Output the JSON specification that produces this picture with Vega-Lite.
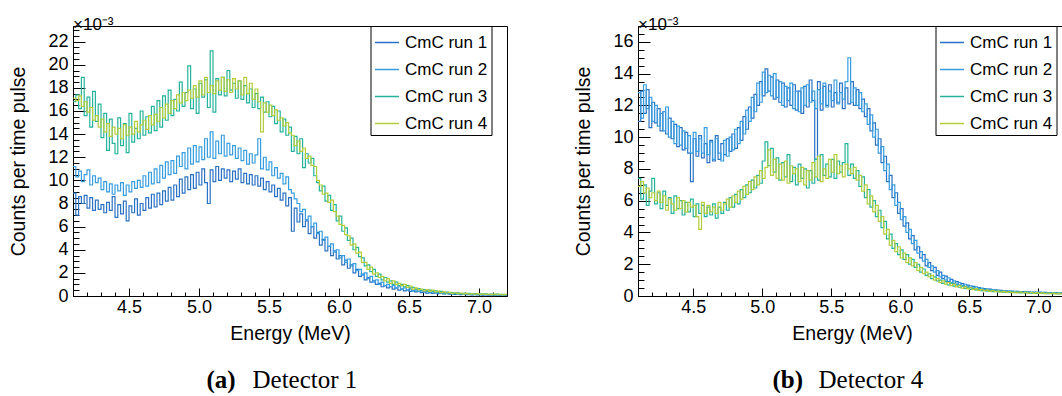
{
"$schema": "https://vega.github.io/schema/vega-lite/v6.json",
"background": "white",
"padding": {"left": 7, "top": 15, "right": 0, "bottom": 0},
"spacing": 62,
"config": {
  "font": "Liberation Sans",
  "view": {"stroke": "black", "strokeWidth": 1},
  "axis": {"grid": false, "domainColor": "black", "domainWidth": 1, "tickColor": "black", "tickWidth": 1, "labelColor": "black", "titleColor": "black", "labelFont": "Liberation Sans", "titleFont": "Liberation Sans", "labelFlush": false, "labelOverlap": false},
  "title": {"color": "black"}
},
"resolve": {"scale": {"x": "independent", "y": "independent", "color": "independent"}, "legend": {"color": "independent"}},
"hconcat": [
{
  "width": 434, "height": 270,
  "title": {"text": "×10⁻³", "orient": "top", "anchor": "start", "frame": "group", "fontSize": 17, "fontWeight": "normal", "font": "Liberation Sans", "baseline": "alphabetic", "offset": -21},
  "data": {"values": [
{"E":4.1,"r1":8.9,"r2":11.2,"r3":16.8,"r4":17.1},
{"E":4.12,"r1":7.0,"r2":10.3,"r3":17.4,"r4":16.9},
{"E":4.14,"r1":8.6,"r2":10.8,"r3":16.2,"r4":17.3},
{"E":4.16,"r1":8.0,"r2":9.9,"r3":18.9,"r4":16.4},
{"E":4.18,"r1":8.7,"r2":10.5,"r3":15.6,"r4":16.8},
{"E":4.2,"r1":7.6,"r2":10.9,"r3":17.2,"r4":15.9},
{"E":4.22,"r1":8.5,"r2":9.6,"r3":14.6,"r4":16.3},
{"E":4.24,"r1":7.4,"r2":10.4,"r3":17.7,"r4":15.2},
{"E":4.26,"r1":8.3,"r2":9.8,"r3":15.1,"r4":15.6},
{"E":4.28,"r1":7.5,"r2":10.2,"r3":16.6,"r4":14.6},
{"E":4.3,"r1":7.9,"r2":9.2,"r3":13.7,"r4":15.3},
{"E":4.32,"r1":7.2,"r2":9.9,"r3":15.8,"r4":14.2},
{"E":4.34,"r1":8.1,"r2":9.0,"r3":12.6,"r4":14.9},
{"E":4.36,"r1":7.4,"r2":9.7,"r3":15.3,"r4":13.8},
{"E":4.38,"r1":8.6,"r2":8.8,"r3":13.2,"r4":14.6},
{"E":4.4,"r1":6.8,"r2":9.6,"r3":12.3,"r4":14.0},
{"E":4.42,"r1":7.9,"r2":9.1,"r3":15.4,"r4":14.5},
{"E":4.44,"r1":7.1,"r2":9.8,"r3":13.0,"r4":13.6},
{"E":4.46,"r1":8.2,"r2":8.7,"r3":14.9,"r4":14.8},
{"E":4.48,"r1":6.5,"r2":9.6,"r3":12.4,"r4":13.9},
{"E":4.5,"r1":7.8,"r2":9.0,"r3":15.8,"r4":14.6},
{"E":4.52,"r1":7.2,"r2":9.9,"r3":13.3,"r4":14.0},
{"E":4.54,"r1":8.4,"r2":9.3,"r3":14.5,"r4":15.1},
{"E":4.56,"r1":7.0,"r2":10.0,"r3":13.6,"r4":14.2},
{"E":4.58,"r1":8.0,"r2":9.4,"r3":16.0,"r4":14.8},
{"E":4.6,"r1":7.4,"r2":10.4,"r3":13.9,"r4":15.2},
{"E":4.62,"r1":8.5,"r2":9.5,"r3":15.5,"r4":14.4},
{"E":4.64,"r1":7.6,"r2":10.7,"r3":14.1,"r4":15.6},
{"E":4.66,"r1":8.8,"r2":9.7,"r3":16.4,"r4":14.8},
{"E":4.68,"r1":7.7,"r2":11.0,"r3":14.3,"r4":15.7},
{"E":4.7,"r1":8.9,"r2":9.8,"r3":16.9,"r4":15.1},
{"E":4.72,"r1":7.9,"r2":11.3,"r3":14.6,"r4":16.3},
{"E":4.74,"r1":9.1,"r2":10.2,"r3":17.3,"r4":15.4},
{"E":4.76,"r1":8.2,"r2":11.6,"r3":15.2,"r4":16.6},
{"E":4.78,"r1":9.4,"r2":10.5,"r3":17.8,"r4":15.8},
{"E":4.8,"r1":8.3,"r2":11.7,"r3":15.6,"r4":16.9},
{"E":4.82,"r1":9.6,"r2":10.6,"r3":17.0,"r4":16.2},
{"E":4.84,"r1":8.6,"r2":12.1,"r3":16.0,"r4":17.4},
{"E":4.86,"r1":10.1,"r2":11.2,"r3":18.5,"r4":16.7},
{"E":4.88,"r1":8.9,"r2":12.4,"r3":16.4,"r4":17.6},
{"E":4.9,"r1":10.3,"r2":11.0,"r3":17.6,"r4":16.9},
{"E":4.92,"r1":9.2,"r2":12.8,"r3":19.9,"r4":17.8},
{"E":4.94,"r1":10.5,"r2":11.4,"r3":16.2,"r4":17.1},
{"E":4.96,"r1":9.3,"r2":13.0,"r3":17.9,"r4":18.2},
{"E":4.98,"r1":10.7,"r2":11.6,"r3":15.8,"r4":17.2},
{"E":5.0,"r1":9.6,"r2":12.9,"r3":18.4,"r4":18.6},
{"E":5.02,"r1":11.0,"r2":11.8,"r3":17.2,"r4":17.4},
{"E":5.04,"r1":9.8,"r2":13.6,"r3":18.7,"r4":18.9},
{"E":5.06,"r1":8.0,"r2":12.0,"r3":16.3,"r4":17.6},
{"E":5.08,"r1":10.9,"r2":14.2,"r3":21.2,"r4":18.2},
{"E":5.1,"r1":9.9,"r2":11.9,"r3":15.9,"r4":17.5},
{"E":5.12,"r1":11.2,"r2":13.4,"r3":18.8,"r4":18.6},
{"E":5.14,"r1":10.0,"r2":12.3,"r3":17.4,"r4":17.8},
{"E":5.16,"r1":11.0,"r2":13.9,"r3":18.9,"r4":18.9},
{"E":5.18,"r1":10.2,"r2":12.1,"r3":17.3,"r4":17.7},
{"E":5.2,"r1":10.9,"r2":13.2,"r3":19.5,"r4":18.7},
{"E":5.22,"r1":9.9,"r2":12.2,"r3":17.8,"r4":17.6},
{"E":5.24,"r1":10.8,"r2":13.0,"r3":18.4,"r4":18.8},
{"E":5.26,"r1":10.1,"r2":11.9,"r3":17.1,"r4":17.9},
{"E":5.28,"r1":11.0,"r2":12.8,"r3":18.6,"r4":18.6},
{"E":5.3,"r1":9.8,"r2":11.7,"r3":17.0,"r4":17.4},
{"E":5.32,"r1":10.6,"r2":12.6,"r3":18.2,"r4":18.9},
{"E":5.34,"r1":9.7,"r2":11.4,"r3":16.7,"r4":17.5},
{"E":5.36,"r1":10.5,"r2":12.3,"r3":17.9,"r4":18.4},
{"E":5.38,"r1":9.6,"r2":11.5,"r3":16.3,"r4":17.0},
{"E":5.4,"r1":10.4,"r2":12.2,"r3":17.5,"r4":17.9},
{"E":5.42,"r1":9.5,"r2":13.6,"r3":16.2,"r4":16.8},
{"E":5.44,"r1":10.2,"r2":11.0,"r3":17.2,"r4":14.2},
{"E":5.46,"r1":9.2,"r2":12.0,"r3":15.9,"r4":16.7},
{"E":5.48,"r1":9.9,"r2":10.9,"r3":16.8,"r4":15.9},
{"E":5.5,"r1":9.0,"r2":11.6,"r3":15.5,"r4":16.5},
{"E":5.52,"r1":9.6,"r2":10.4,"r3":16.4,"r4":15.6},
{"E":5.54,"r1":8.6,"r2":11.1,"r3":14.9,"r4":16.1},
{"E":5.56,"r1":9.3,"r2":10.2,"r3":16.0,"r4":15.2},
{"E":5.58,"r1":8.3,"r2":10.6,"r3":14.2,"r4":15.4},
{"E":5.6,"r1":8.9,"r2":9.7,"r3":15.3,"r4":14.7},
{"E":5.62,"r1":7.8,"r2":10.3,"r3":13.9,"r4":15.0},
{"E":5.64,"r1":8.5,"r2":9.2,"r3":14.6,"r4":14.1},
{"E":5.66,"r1":5.6,"r2":8.9,"r3":12.5,"r4":13.9},
{"E":5.68,"r1":7.6,"r2":8.4,"r3":13.8,"r4":13.0},
{"E":5.7,"r1":6.4,"r2":8.0,"r3":12.3,"r4":13.4},
{"E":5.72,"r1":7.1,"r2":7.3,"r3":13.6,"r4":12.5},
{"E":5.74,"r1":6.0,"r2":7.5,"r3":11.1,"r4":12.8},
{"E":5.76,"r1":6.5,"r2":6.6,"r3":12.3,"r4":11.9},
{"E":5.78,"r1":5.4,"r2":6.9,"r3":11.5,"r4":12.1},
{"E":5.8,"r1":6.0,"r2":6.0,"r3":11.9,"r4":11.3},
{"E":5.82,"r1":5.0,"r2":6.3,"r3":10.4,"r4":11.2},
{"E":5.84,"r1":5.5,"r2":5.4,"r3":9.8,"r4":10.0},
{"E":5.86,"r1":4.4,"r2":5.6,"r3":9.1,"r4":9.6},
{"E":5.88,"r1":4.9,"r2":4.8,"r3":9.5,"r4":8.8},
{"E":5.9,"r1":3.9,"r2":5.1,"r3":8.2,"r4":8.9},
{"E":5.92,"r1":4.3,"r2":4.3,"r3":8.7,"r4":8.1},
{"E":5.94,"r1":3.5,"r2":4.5,"r3":7.4,"r4":8.3},
{"E":5.96,"r1":3.9,"r2":3.8,"r3":7.9,"r4":7.3},
{"E":5.98,"r1":3.2,"r2":4.0,"r3":6.5,"r4":6.9},
{"E":6.0,"r1":3.5,"r2":3.3,"r3":6.9,"r4":6.2},
{"E":6.02,"r1":2.7,"r2":3.5,"r3":5.6,"r4":6.1},
{"E":6.04,"r1":3.1,"r2":2.9,"r3":5.9,"r4":5.3},
{"E":6.06,"r1":2.4,"r2":3.2,"r3":4.8,"r4":5.2},
{"E":6.08,"r1":2.7,"r2":2.6,"r3":5.0,"r4":4.4},
{"E":6.1,"r1":2.0,"r2":2.8,"r3":4.0,"r4":4.5},
{"E":6.12,"r1":2.3,"r2":2.2,"r3":4.2,"r4":3.7},
{"E":6.14,"r1":1.7,"r2":2.3,"r3":3.4,"r4":3.8},
{"E":6.16,"r1":1.9,"r2":1.8,"r3":3.3,"r4":2.9},
{"E":6.18,"r1":1.4,"r2":2.0,"r3":2.6,"r4":2.9},
{"E":6.2,"r1":1.6,"r2":1.5,"r3":2.7,"r4":2.3},
{"E":6.22,"r1":1.2,"r2":1.7,"r3":2.1,"r4":2.5},
{"E":6.24,"r1":1.3,"r2":1.2,"r3":2.3,"r4":1.9},
{"E":6.26,"r1":1.0,"r2":1.4,"r3":1.7,"r4":2.0},
{"E":6.28,"r1":1.1,"r2":1.0,"r3":1.9,"r4":1.6},
{"E":6.3,"r1":0.8,"r2":1.2,"r3":1.4,"r4":1.7},
{"E":6.32,"r1":0.9,"r2":0.9,"r3":1.6,"r4":1.3},
{"E":6.34,"r1":0.7,"r2":1.0,"r3":1.2,"r4":1.5},
{"E":6.36,"r1":0.8,"r2":0.8,"r3":1.3,"r4":1.1},
{"E":6.38,"r1":0.6,"r2":0.9,"r3":1.0,"r4":1.3},
{"E":6.4,"r1":0.7,"r2":0.7,"r3":1.2,"r4":1.0},
{"E":6.42,"r1":0.5,"r2":0.8,"r3":0.9,"r4":1.1},
{"E":6.44,"r1":0.6,"r2":0.6,"r3":1.0,"r4":0.9},
{"E":6.46,"r1":0.45,"r2":0.7,"r3":0.8,"r4":1.0},
{"E":6.48,"r1":0.5,"r2":0.5,"r3":0.9,"r4":0.75},
{"E":6.5,"r1":0.4,"r2":0.6,"r3":0.7,"r4":0.85},
{"E":6.52,"r1":0.45,"r2":0.45,"r3":0.75,"r4":0.6},
{"E":6.54,"r1":0.35,"r2":0.5,"r3":0.6,"r4":0.7},
{"E":6.56,"r1":0.4,"r2":0.4,"r3":0.65,"r4":0.55},
{"E":6.58,"r1":0.3,"r2":0.45,"r3":0.5,"r4":0.6},
{"E":6.6,"r1":0.35,"r2":0.35,"r3":0.55,"r4":0.45},
{"E":6.62,"r1":0.25,"r2":0.4,"r3":0.45,"r4":0.55},
{"E":6.64,"r1":0.3,"r2":0.3,"r3":0.5,"r4":0.4},
{"E":6.66,"r1":0.22,"r2":0.35,"r3":0.4,"r4":0.5},
{"E":6.68,"r1":0.28,"r2":0.25,"r3":0.45,"r4":0.35},
{"E":6.7,"r1":0.2,"r2":0.3,"r3":0.35,"r4":0.42},
{"E":6.72,"r1":0.25,"r2":0.22,"r3":0.4,"r4":0.3},
{"E":6.74,"r1":0.18,"r2":0.28,"r3":0.3,"r4":0.36},
{"E":6.76,"r1":0.22,"r2":0.2,"r3":0.34,"r4":0.26},
{"E":6.78,"r1":0.15,"r2":0.25,"r3":0.26,"r4":0.32},
{"E":6.8,"r1":0.2,"r2":0.18,"r3":0.3,"r4":0.22},
{"E":6.82,"r1":0.14,"r2":0.22,"r3":0.22,"r4":0.28},
{"E":6.84,"r1":0.18,"r2":0.15,"r3":0.27,"r4":0.2},
{"E":6.86,"r1":0.12,"r2":0.2,"r3":0.2,"r4":0.25},
{"E":6.88,"r1":0.16,"r2":0.14,"r3":0.24,"r4":0.18},
{"E":6.9,"r1":0.11,"r2":0.18,"r3":0.18,"r4":0.23},
{"E":6.92,"r1":0.15,"r2":0.12,"r3":0.22,"r4":0.16},
{"E":6.94,"r1":0.1,"r2":0.16,"r3":0.16,"r4":0.21},
{"E":6.96,"r1":0.13,"r2":0.11,"r3":0.2,"r4":0.15},
{"E":6.98,"r1":0.09,"r2":0.15,"r3":0.15,"r4":0.2},
{"E":7.0,"r1":0.12,"r2":0.1,"r3":0.19,"r4":0.14},
{"E":7.02,"r1":0.08,"r2":0.14,"r3":0.14,"r4":0.18},
{"E":7.04,"r1":0.11,"r2":0.09,"r3":0.18,"r4":0.13},
{"E":7.06,"r1":0.08,"r2":0.13,"r3":0.13,"r4":0.17},
{"E":7.08,"r1":0.1,"r2":0.08,"r3":0.17,"r4":0.12},
{"E":7.1,"r1":0.07,"r2":0.12,"r3":0.12,"r4":0.16},
{"E":7.12,"r1":0.1,"r2":0.08,"r3":0.16,"r4":0.11},
{"E":7.14,"r1":0.07,"r2":0.11,"r3":0.11,"r4":0.15},
{"E":7.16,"r1":0.09,"r2":0.07,"r3":0.15,"r4":0.1},
{"E":7.18,"r1":0.07,"r2":0.1,"r3":0.12,"r4":0.14},
{"E":7.2,"r1":0.07,"r2":0.1,"r3":0.12,"r4":0.14}
  ]},
  "transform": [{"fold": ["r1", "r2", "r3", "r4"], "as": ["run", "v"]}],
  "resolve": {"axis": {"x": "independent", "y": "independent"}},
  "layer": [
    {
      "transform": [{"filter": {"field": "run", "oneOf": ["r1", "r2"]}}],
      "mark": {"type": "line", "interpolate": "step-after", "strokeWidth": 1.2},
      "encoding": {
        "x": {"field": "E", "type": "quantitative", "scale": {"domain": [4.1, 7.2], "nice": false, "zero": false},
              "axis": {"orient": "bottom", "values": [4.5, 5, 5.5, 6, 6.5, 7], "format": ".1f", "tickSize": -8, "labelFontSize": 18, "labelPadding": 10, "title": "Energy (MeV)", "titleFontSize": 19.5, "titleFontWeight": "normal", "titleX": 217, "titleY": 43.5, "titleAlign": "center", "titleBaseline": "alphabetic"}},
        "y": {"field": "v", "type": "quantitative", "scale": {"domain": [0, 23.35], "nice": false, "zero": false},
              "axis": {"orient": "left", "values": [0, 2, 4, 6, 8, 10, 12, 14, 16, 18, 20, 22], "format": "d", "tickSize": -12, "labelFontSize": 18, "labelPadding": 17, "title": "Counts per time pulse", "titleFontSize": 19.5, "titleFontWeight": "normal", "titleAngle": -90, "titleX": -55, "titleY": 135, "titleAlign": "center", "titleBaseline": "middle"}},
        "color": {"field": "run", "type": "nominal",
                  "scale": {"domain": ["r1", "r2", "r3", "r4"], "range": ["#2a72c4", "#389ddf", "#25b39b", "#b3cd3c"]},
                  "legend": {"orient": "none", "legendX": 297.5, "legendY": 0, "title": null, "symbolType": "stroke", "symbolSize": 576, "symbolStrokeWidth": 1.5, "labelFontSize": 17, "labelFont": "Liberation Sans", "labelColor": "black", "labelOffset": 5, "padding": 3.5, "rowPadding": 6, "strokeColor": "black", "fillColor": "white", "labelExpr": "'CmC run ' + slice(datum.label, 1) + '\u00a0\u00a0\u00a0\u00a0'"}}
      }
    },
    {
      "transform": [{"filter": {"field": "run", "oneOf": ["r3", "r4"]}}],
      "mark": {"type": "line", "interpolate": "step-after", "strokeWidth": 1.2},
      "encoding": {
        "x": {"field": "E", "type": "quantitative", "scale": {"domain": [4.1, 7.2], "nice": false, "zero": false},
              "axis": {"orient": "bottom", "values": [4.1, 4.2, 4.3, 4.4, 4.5, 4.6, 4.7, 4.8, 4.9, 5.0, 5.1, 5.2, 5.3, 5.4, 5.5, 5.6, 5.7, 5.8, 5.9, 6.0, 6.1, 6.2, 6.3, 6.4, 6.5, 6.6, 6.7, 6.8, 6.9, 7.0, 7.1], "labels": false, "domain": false, "tickSize": -4, "title": "Detector 1", "titleFont": "Liberation Serif", "titleFontSize": 25, "titleFontWeight": "normal", "titleX": 179, "titleY": 91, "titleAlign": "left", "titleBaseline": "alphabetic"}},
        "y": {"field": "v", "type": "quantitative", "scale": {"domain": [0, 23.35], "nice": false, "zero": false},
              "axis": {"orient": "left", "values": [0.5, 1, 1.5, 2.5, 3, 3.5, 4.5, 5, 5.5, 6.5, 7, 7.5, 8.5, 9, 9.5, 10.5, 11, 11.5, 12.5, 13, 13.5, 14.5, 15, 15.5, 16.5, 17, 17.5, 18.5, 19, 19.5, 20.5, 21, 21.5, 22.5, 23], "labels": false, "domain": false, "tickSize": -6, "title": "(a)", "titleFont": "Liberation Serif", "titleFontSize": 25, "titleFontWeight": "bold", "titleAngle": 0, "titleX": 133, "titleY": 361, "titleAlign": "left", "titleBaseline": "alphabetic"}},
        "color": {"field": "run", "type": "nominal", "scale": {"domain": ["r1", "r2", "r3", "r4"], "range": ["#2a72c4", "#389ddf", "#25b39b", "#b3cd3c"]}}
      }
    }
  ]
},
{
  "width": 428, "height": 270,
  "title": {"text": "×10⁻³", "orient": "top", "anchor": "start", "frame": "group", "fontSize": 17, "fontWeight": "normal", "font": "Liberation Sans", "baseline": "alphabetic", "offset": -21},
  "data": {"values": [
{"E":4.1,"r1":11.0,"r2":12.8,"r3":7.4,"r4":6.9},
{"E":4.12,"r1":12.9,"r2":11.2,"r3":6.1,"r4":7.2},
{"E":4.14,"r1":11.5,"r2":13.3,"r3":7.0,"r4":6.5},
{"E":4.16,"r1":13.0,"r2":11.8,"r3":5.7,"r4":6.8},
{"E":4.18,"r1":10.6,"r2":12.5,"r3":6.6,"r4":6.2},
{"E":4.2,"r1":12.2,"r2":11.0,"r3":7.4,"r4":6.5},
{"E":4.22,"r1":10.9,"r2":12.0,"r3":5.8,"r4":6.0},
{"E":4.24,"r1":11.8,"r2":10.7,"r3":6.5,"r4":6.6},
{"E":4.26,"r1":10.4,"r2":11.5,"r3":5.5,"r4":5.9},
{"E":4.28,"r1":11.6,"r2":10.4,"r3":6.6,"r4":6.3},
{"E":4.3,"r1":10.2,"r2":11.9,"r3":5.7,"r4":5.4},
{"E":4.32,"r1":11.2,"r2":10.0,"r3":6.2,"r4":6.1},
{"E":4.34,"r1":9.9,"r2":11.0,"r3":5.2,"r4":5.8},
{"E":4.36,"r1":10.8,"r2":9.6,"r3":6.3,"r4":5.4},
{"E":4.38,"r1":9.4,"r2":10.7,"r3":5.5,"r4":6.2},
{"E":4.4,"r1":10.6,"r2":9.5,"r3":6.0,"r4":5.5},
{"E":4.42,"r1":9.2,"r2":10.4,"r3":5.1,"r4":6.0},
{"E":4.44,"r1":10.3,"r2":9.3,"r3":5.9,"r4":5.3},
{"E":4.46,"r1":9.0,"r2":10.1,"r3":5.3,"r4":5.9},
{"E":4.48,"r1":7.2,"r2":9.0,"r3":6.1,"r4":5.6},
{"E":4.5,"r1":9.9,"r2":10.3,"r3":5.0,"r4":5.7},
{"E":4.52,"r1":8.8,"r2":9.1,"r3":5.8,"r4":5.0},
{"E":4.54,"r1":10.1,"r2":9.9,"r3":5.2,"r4":4.2},
{"E":4.56,"r1":8.7,"r2":9.0,"r3":5.7,"r4":5.9},
{"E":4.58,"r1":9.6,"r2":10.6,"r3":5.0,"r4":5.2},
{"E":4.6,"r1":8.4,"r2":8.9,"r3":5.6,"r4":5.7},
{"E":4.62,"r1":9.8,"r2":9.7,"r3":5.1,"r4":5.3},
{"E":4.64,"r1":8.5,"r2":8.6,"r3":5.8,"r4":5.6},
{"E":4.66,"r1":10.1,"r2":9.9,"r3":4.9,"r4":5.2},
{"E":4.68,"r1":8.6,"r2":9.0,"r3":5.6,"r4":5.9},
{"E":4.7,"r1":9.6,"r2":8.5,"r3":5.2,"r4":5.4},
{"E":4.72,"r1":8.9,"r2":9.8,"r3":5.9,"r4":5.8},
{"E":4.74,"r1":9.9,"r2":8.8,"r3":5.4,"r4":6.1},
{"E":4.76,"r1":9.1,"r2":10.0,"r3":6.2,"r4":5.6},
{"E":4.78,"r1":10.2,"r2":9.2,"r3":5.6,"r4":6.3},
{"E":4.8,"r1":9.3,"r2":10.5,"r3":6.4,"r4":5.9},
{"E":4.82,"r1":10.6,"r2":9.6,"r3":5.8,"r4":6.6},
{"E":4.84,"r1":9.8,"r2":11.0,"r3":6.7,"r4":6.1},
{"E":4.86,"r1":11.3,"r2":10.2,"r3":6.2,"r4":6.9},
{"E":4.88,"r1":10.5,"r2":11.7,"r3":7.0,"r4":6.4},
{"E":4.9,"r1":11.9,"r2":11.0,"r3":6.5,"r4":7.2},
{"E":4.92,"r1":11.2,"r2":12.5,"r3":7.3,"r4":6.7},
{"E":4.94,"r1":12.7,"r2":11.6,"r3":6.8,"r4":7.5},
{"E":4.96,"r1":12.0,"r2":13.4,"r3":7.6,"r4":7.0},
{"E":4.98,"r1":13.5,"r2":12.2,"r3":7.1,"r4":7.9},
{"E":5.0,"r1":12.6,"r2":14.1,"r3":8.5,"r4":7.4},
{"E":5.02,"r1":14.3,"r2":12.8,"r3":9.7,"r4":8.1},
{"E":5.04,"r1":12.9,"r2":13.9,"r3":8.2,"r4":9.2},
{"E":5.06,"r1":13.8,"r2":12.6,"r3":9.3,"r4":7.6},
{"E":5.08,"r1":12.4,"r2":14.0,"r3":7.8,"r4":8.6},
{"E":5.1,"r1":13.6,"r2":12.5,"r3":8.7,"r4":7.4},
{"E":5.12,"r1":12.2,"r2":13.5,"r3":7.3,"r4":8.3},
{"E":5.14,"r1":13.4,"r2":12.0,"r3":8.4,"r4":7.3},
{"E":5.16,"r1":11.9,"r2":13.2,"r3":7.5,"r4":8.5},
{"E":5.18,"r1":13.1,"r2":12.3,"r3":8.9,"r4":7.1},
{"E":5.2,"r1":12.0,"r2":13.4,"r3":7.2,"r4":8.2},
{"E":5.22,"r1":13.3,"r2":11.8,"r3":8.1,"r4":7.7},
{"E":5.24,"r1":11.7,"r2":12.9,"r3":7.0,"r4":8.0},
{"E":5.26,"r1":12.9,"r2":11.6,"r3":8.3,"r4":7.2},
{"E":5.28,"r1":11.5,"r2":13.1,"r3":7.4,"r4":8.1},
{"E":5.3,"r1":13.2,"r2":12.0,"r3":8.0,"r4":7.0},
{"E":5.32,"r1":11.9,"r2":13.3,"r3":6.8,"r4":7.9},
{"E":5.34,"r1":13.6,"r2":12.2,"r3":7.9,"r4":7.3},
{"E":5.36,"r1":12.3,"r2":12.9,"r3":7.1,"r4":8.4},
{"E":5.38,"r1":8.6,"r2":11.8,"r3":8.6,"r4":7.5},
{"E":5.4,"r1":13.5,"r2":13.0,"r3":7.3,"r4":8.8},
{"E":5.42,"r1":11.7,"r2":12.1,"r3":8.9,"r4":7.2},
{"E":5.44,"r1":13.2,"r2":13.4,"r3":7.6,"r4":8.0},
{"E":5.46,"r1":12.0,"r2":11.9,"r3":8.3,"r4":7.4},
{"E":5.48,"r1":13.3,"r2":12.9,"r3":7.5,"r4":8.6},
{"E":5.5,"r1":11.9,"r2":12.3,"r3":8.6,"r4":7.8},
{"E":5.52,"r1":12.8,"r2":13.6,"r3":7.4,"r4":8.9},
{"E":5.54,"r1":12.2,"r2":12.1,"r3":8.5,"r4":7.7},
{"E":5.56,"r1":13.4,"r2":12.8,"r3":7.8,"r4":8.2},
{"E":5.58,"r1":11.8,"r2":12.4,"r3":8.4,"r4":7.5},
{"E":5.6,"r1":13.1,"r2":13.5,"r3":9.6,"r4":8.3},
{"E":5.62,"r1":12.1,"r2":15.0,"r3":7.6,"r4":8.0},
{"E":5.64,"r1":13.5,"r2":12.2,"r3":8.3,"r4":7.7},
{"E":5.66,"r1":12.0,"r2":13.1,"r3":7.4,"r4":8.1},
{"E":5.68,"r1":13.0,"r2":12.0,"r3":7.9,"r4":7.3},
{"E":5.7,"r1":11.8,"r2":12.8,"r3":6.9,"r4":7.6},
{"E":5.72,"r1":12.4,"r2":11.6,"r3":7.5,"r4":6.6},
{"E":5.74,"r1":11.3,"r2":12.1,"r3":6.2,"r4":7.0},
{"E":5.76,"r1":11.8,"r2":10.8,"r3":6.7,"r4":5.8},
{"E":5.78,"r1":10.4,"r2":11.4,"r3":5.6,"r4":6.3},
{"E":5.8,"r1":10.9,"r2":10.0,"r3":6.0,"r4":5.3},
{"E":5.82,"r1":9.5,"r2":10.5,"r3":5.0,"r4":5.7},
{"E":5.84,"r1":9.9,"r2":9.0,"r3":5.4,"r4":4.7},
{"E":5.86,"r1":8.4,"r2":9.4,"r3":4.3,"r4":5.0},
{"E":5.88,"r1":8.8,"r2":7.9,"r3":4.7,"r4":3.9},
{"E":5.9,"r1":7.2,"r2":8.3,"r3":3.6,"r4":4.2},
{"E":5.92,"r1":7.6,"r2":6.7,"r3":3.9,"r4":3.2},
{"E":5.94,"r1":6.2,"r2":7.0,"r3":3.0,"r4":3.5},
{"E":5.96,"r1":6.5,"r2":5.7,"r3":3.3,"r4":2.8},
{"E":5.98,"r1":5.2,"r2":5.9,"r3":2.6,"r4":3.1},
{"E":6.0,"r1":5.5,"r2":4.8,"r3":2.9,"r4":2.4},
{"E":6.02,"r1":4.4,"r2":5.0,"r3":2.3,"r4":2.7},
{"E":6.04,"r1":4.6,"r2":4.0,"r3":2.6,"r4":2.1},
{"E":6.06,"r1":3.6,"r2":4.2,"r3":2.0,"r4":2.4},
{"E":6.08,"r1":3.8,"r2":3.3,"r3":2.3,"r4":1.9},
{"E":6.1,"r1":2.9,"r2":3.5,"r3":1.8,"r4":2.1},
{"E":6.12,"r1":3.1,"r2":2.7,"r3":2.0,"r4":1.6},
{"E":6.14,"r1":2.4,"r2":2.8,"r3":1.5,"r4":1.8},
{"E":6.16,"r1":2.6,"r2":2.2,"r3":1.7,"r4":1.4},
{"E":6.18,"r1":1.9,"r2":2.3,"r3":1.3,"r4":1.5},
{"E":6.2,"r1":2.1,"r2":1.8,"r3":1.4,"r4":1.2},
{"E":6.22,"r1":1.6,"r2":1.9,"r3":1.1,"r4":1.3},
{"E":6.24,"r1":1.8,"r2":1.5,"r3":1.2,"r4":1.0},
{"E":6.26,"r1":1.3,"r2":1.6,"r3":0.95,"r4":1.1},
{"E":6.28,"r1":1.5,"r2":1.2,"r3":1.0,"r4":0.85},
{"E":6.3,"r1":1.1,"r2":1.3,"r3":0.8,"r4":0.95},
{"E":6.32,"r1":1.25,"r2":1.0,"r3":0.9,"r4":0.75},
{"E":6.34,"r1":0.9,"r2":1.15,"r3":0.7,"r4":0.85},
{"E":6.36,"r1":1.05,"r2":0.85,"r3":0.8,"r4":0.65},
{"E":6.38,"r1":0.8,"r2":0.95,"r3":0.62,"r4":0.75},
{"E":6.4,"r1":0.9,"r2":0.75,"r3":0.7,"r4":0.58},
{"E":6.42,"r1":0.68,"r2":0.85,"r3":0.55,"r4":0.66},
{"E":6.44,"r1":0.78,"r2":0.65,"r3":0.62,"r4":0.5},
{"E":6.46,"r1":0.6,"r2":0.74,"r3":0.48,"r4":0.58},
{"E":6.48,"r1":0.68,"r2":0.56,"r3":0.55,"r4":0.45},
{"E":6.5,"r1":0.52,"r2":0.64,"r3":0.42,"r4":0.52},
{"E":6.52,"r1":0.6,"r2":0.5,"r3":0.48,"r4":0.4},
{"E":6.54,"r1":0.46,"r2":0.57,"r3":0.38,"r4":0.46},
{"E":6.56,"r1":0.53,"r2":0.44,"r3":0.43,"r4":0.36},
{"E":6.58,"r1":0.42,"r2":0.5,"r3":0.34,"r4":0.41},
{"E":6.6,"r1":0.47,"r2":0.4,"r3":0.39,"r4":0.32},
{"E":6.62,"r1":0.38,"r2":0.45,"r3":0.31,"r4":0.37},
{"E":6.64,"r1":0.43,"r2":0.36,"r3":0.35,"r4":0.29},
{"E":6.66,"r1":0.35,"r2":0.41,"r3":0.28,"r4":0.34},
{"E":6.68,"r1":0.39,"r2":0.33,"r3":0.32,"r4":0.27},
{"E":6.7,"r1":0.32,"r2":0.37,"r3":0.26,"r4":0.31},
{"E":6.72,"r1":0.36,"r2":0.3,"r3":0.3,"r4":0.25},
{"E":6.74,"r1":0.29,"r2":0.34,"r3":0.24,"r4":0.29},
{"E":6.76,"r1":0.33,"r2":0.28,"r3":0.28,"r4":0.23},
{"E":6.78,"r1":0.27,"r2":0.32,"r3":0.22,"r4":0.27},
{"E":6.8,"r1":0.31,"r2":0.26,"r3":0.26,"r4":0.21},
{"E":6.82,"r1":0.25,"r2":0.3,"r3":0.21,"r4":0.25},
{"E":6.84,"r1":0.29,"r2":0.24,"r3":0.24,"r4":0.2},
{"E":6.86,"r1":0.23,"r2":0.28,"r3":0.2,"r4":0.24},
{"E":6.88,"r1":0.27,"r2":0.22,"r3":0.23,"r4":0.19},
{"E":6.9,"r1":0.22,"r2":0.27,"r3":0.19,"r4":0.23},
{"E":6.92,"r1":0.26,"r2":0.21,"r3":0.22,"r4":0.18},
{"E":6.94,"r1":0.21,"r2":0.25,"r3":0.18,"r4":0.22},
{"E":6.96,"r1":0.25,"r2":0.2,"r3":0.21,"r4":0.17},
{"E":6.98,"r1":0.2,"r2":0.24,"r3":0.17,"r4":0.21},
{"E":7.0,"r1":0.24,"r2":0.19,"r3":0.2,"r4":0.16},
{"E":7.02,"r1":0.19,"r2":0.23,"r3":0.16,"r4":0.2},
{"E":7.04,"r1":0.23,"r2":0.18,"r3":0.19,"r4":0.15},
{"E":7.06,"r1":0.18,"r2":0.22,"r3":0.15,"r4":0.19},
{"E":7.08,"r1":0.22,"r2":0.17,"r3":0.18,"r4":0.15},
{"E":7.1,"r1":0.17,"r2":0.21,"r3":0.15,"r4":0.18},
{"E":7.12,"r1":0.21,"r2":0.17,"r3":0.17,"r4":0.14},
{"E":7.14,"r1":0.17,"r2":0.2,"r3":0.14,"r4":0.17},
{"E":7.16,"r1":0.2,"r2":0.16,"r3":0.16,"r4":0.13},
{"E":7.18,"r1":0.16,"r2":0.19,"r3":0.13,"r4":0.16},
{"E":7.2,"r1":0.16,"r2":0.19,"r3":0.13,"r4":0.16}
  ]},
  "transform": [{"fold": ["r1", "r2", "r3", "r4"], "as": ["run", "v"]}],
  "resolve": {"axis": {"x": "independent", "y": "independent"}},
  "layer": [
    {
      "transform": [{"filter": {"field": "run", "oneOf": ["r1", "r2"]}}],
      "mark": {"type": "line", "interpolate": "step-after", "strokeWidth": 1.2},
      "encoding": {
        "x": {"field": "E", "type": "quantitative", "scale": {"domain": [4.1, 7.2], "nice": false, "zero": false},
              "axis": {"orient": "bottom", "values": [4.5, 5, 5.5, 6, 6.5, 7], "format": ".1f", "tickSize": -8, "labelFontSize": 18, "labelPadding": 10, "title": "Energy (MeV)", "titleFontSize": 19.5, "titleFontWeight": "normal", "titleX": 214, "titleY": 43.5, "titleAlign": "center", "titleBaseline": "alphabetic"}},
        "y": {"field": "v", "type": "quantitative", "scale": {"domain": [0, 17.0], "nice": false, "zero": false},
              "axis": {"orient": "left", "values": [0, 2, 4, 6, 8, 10, 12, 14, 16], "format": "d", "tickSize": -12, "labelFontSize": 18, "labelPadding": 17, "title": "Counts per time pulse", "titleFontSize": 19.5, "titleFontWeight": "normal", "titleAngle": -90, "titleX": -55, "titleY": 135, "titleAlign": "center", "titleBaseline": "middle"}},
        "color": {"field": "run", "type": "nominal",
                  "scale": {"domain": ["r1", "r2", "r3", "r4"], "range": ["#2a72c4", "#389ddf", "#25b39b", "#b3cd3c"]},
                  "legend": {"orient": "none", "legendX": 297.5, "legendY": 0, "title": null, "symbolType": "stroke", "symbolSize": 576, "symbolStrokeWidth": 1.5, "labelFontSize": 17, "labelFont": "Liberation Sans", "labelColor": "black", "labelOffset": 5, "padding": 3.5, "rowPadding": 6, "strokeColor": "black", "fillColor": "white", "labelExpr": "'CmC run ' + slice(datum.label, 1) + '\u00a0\u00a0\u00a0\u00a0'"}}
      }
    },
    {
      "transform": [{"filter": {"field": "run", "oneOf": ["r3", "r4"]}}],
      "mark": {"type": "line", "interpolate": "step-after", "strokeWidth": 1.2},
      "encoding": {
        "x": {"field": "E", "type": "quantitative", "scale": {"domain": [4.1, 7.2], "nice": false, "zero": false},
              "axis": {"orient": "bottom", "values": [4.1, 4.2, 4.3, 4.4, 4.5, 4.6, 4.7, 4.8, 4.9, 5.0, 5.1, 5.2, 5.3, 5.4, 5.5, 5.6, 5.7, 5.8, 5.9, 6.0, 6.1, 6.2, 6.3, 6.4, 6.5, 6.6, 6.7, 6.8, 6.9, 7.0, 7.1], "labels": false, "domain": false, "tickSize": -4, "title": "Detector 4", "titleFont": "Liberation Serif", "titleFontSize": 25, "titleFontWeight": "normal", "titleX": 180, "titleY": 91, "titleAlign": "left", "titleBaseline": "alphabetic"}},
        "y": {"field": "v", "type": "quantitative", "scale": {"domain": [0, 17.0], "nice": false, "zero": false},
              "axis": {"orient": "left", "values": [0.5, 1, 1.5, 2.5, 3, 3.5, 4.5, 5, 5.5, 6.5, 7, 7.5, 8.5, 9, 9.5, 10.5, 11, 11.5, 12.5, 13, 13.5, 14.5, 15, 15.5, 16.5, 17], "labels": false, "domain": false, "tickSize": -6, "title": "(b)", "titleFont": "Liberation Serif", "titleFontSize": 25, "titleFontWeight": "bold", "titleAngle": 0, "titleX": 134, "titleY": 361, "titleAlign": "left", "titleBaseline": "alphabetic"}},
        "color": {"field": "run", "type": "nominal", "scale": {"domain": ["r1", "r2", "r3", "r4"], "range": ["#2a72c4", "#389ddf", "#25b39b", "#b3cd3c"]}}
      }
    }
  ]
}
]
}
